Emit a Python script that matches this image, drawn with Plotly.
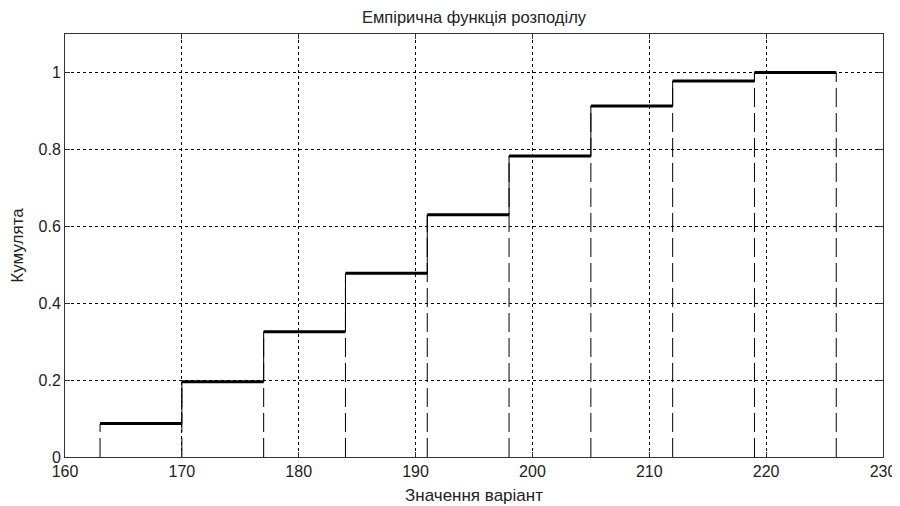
import plotly.graph_objects as go

edges = [163, 170, 177, 184, 191, 198, 205, 212, 219, 226]
cum_values = [0.087, 0.196, 0.326, 0.478, 0.630, 0.783, 0.913, 0.978, 1.0]
x_ticks = [160, 170, 180, 190, 200, 210, 220, 230]
y_ticks = [0, 0.2, 0.4, 0.6, 0.8, 1]
y_tick_text = ["0", "0.2", "0.4", "0.6", "0.8", "1"]
title = "Емпірична функція розподілу"
x_title = "Значення варіант"
y_title = "Кумулята"

# dashed verticals from 0 to the step height at each edge
dx, dy = [], []
for i, x in enumerate(edges):
    v = cum_values[i] if i < len(cum_values) else cum_values[-1]
    dx += [x, x, None]
    dy += [0, v, None]

# solid risers
rx, ry = [], []
for i in range(1, len(cum_values)):
    rx += [edges[i], edges[i], None]
    ry += [cum_values[i - 1], cum_values[i], None]

# horizontal steps
hx, hy = [], []
for i, v in enumerate(cum_values):
    hx += [edges[i], edges[i + 1], None]
    hy += [v, v, None]

fig = go.Figure()
fig.add_trace(go.Scatter(x=dx, y=dy, mode="lines",
                         line=dict(color="black", width=1, dash="19px,6px"),
                         hoverinfo="skip", showlegend=False))
fig.add_trace(go.Scatter(x=rx, y=ry, mode="lines",
                         line=dict(color="black", width=1),
                         hoverinfo="skip", showlegend=False))
fig.add_trace(go.Scatter(x=hx, y=hy, mode="lines",
                         line=dict(color="black", width=3),
                         hoverinfo="skip", showlegend=False))

FONT = "Liberation Sans, Arial"
axis_common = dict(
    showline=True, linecolor="#333333", linewidth=1, mirror="allticks",
    ticks="inside", ticklen=5, tickcolor="#333333",
    showgrid=True, gridcolor="black", gridwidth=1, griddash="dot",
    zeroline=False, automargin=False,
    tickfont=dict(family=FONT, size=16, color="#222222"),
)

# the page body adds an 8px offset; margins compensate for it
fig.update_layout(
    width=900, height=506,
    paper_bgcolor="white", plot_bgcolor="white",
    margin=dict(l=57, r=25, t=26, b=57),
    title=dict(text=title, x=0.5, xanchor="center", xref="paper",
               y=1 - 9 / 506, yanchor="middle",
               font=dict(family=FONT, size=16.5, color="#222222")),
    xaxis=dict(range=[160, 230], tickvals=x_ticks,
               title=dict(text=x_title, standoff=9,
                          font=dict(family=FONT, size=17, color="#222222")),
               **axis_common),
    yaxis=dict(range=[0, 1.1], tickvals=y_ticks, ticktext=y_tick_text,
               title=dict(text=y_title, standoff=12,
                          font=dict(family=FONT, size=17, color="#222222")),
               **axis_common),
)

fig.write_html("out.html")
